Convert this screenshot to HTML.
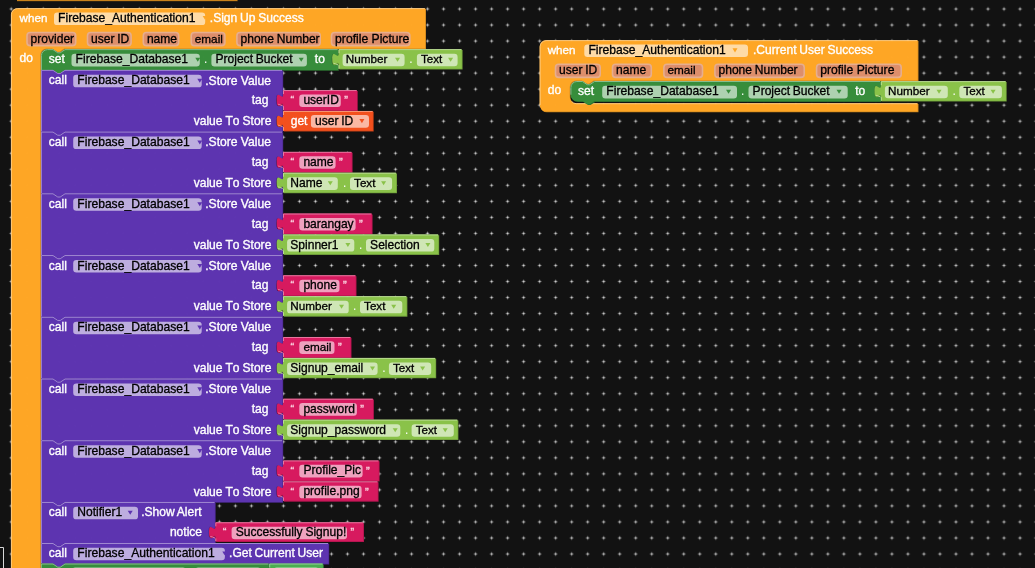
<!DOCTYPE html>
<html><head><meta charset="utf-8"><title>Blocks</title>
<style>
html,body{margin:0;padding:0;background:#121212;}
body{width:1035px;height:568px;overflow:hidden;position:relative;font-family:"Liberation Sans",sans-serif;}
svg{position:absolute;left:0;top:0;display:block;}
text{font-family:"Liberation Sans",sans-serif;word-spacing:-0.6px;white-space:pre;}
</style></head><body>
<svg width="1035" height="568" viewBox="0 0 1035 568">
<defs>
<pattern id="grid" x="3.24" y="1.0" width="16.0125" height="16.03" patternUnits="userSpaceOnUse">
<rect x="5.9" y="7.5" width="4.2" height="1" fill="#cfcfcf" fill-opacity="0.3"/><rect x="7.5" y="5.9" width="1" height="4.2" fill="#cfcfcf" fill-opacity="0.3"/>
<rect x="6.9" y="7.3" width="2.2" height="1.4" fill="#cfcfcf" fill-opacity="0.5"/><rect x="7.3" y="6.9" width="1.4" height="2.2" fill="#cfcfcf" fill-opacity="0.5"/>
<rect x="7.4" y="7.4" width="1.2" height="1.2" fill="#dadada" fill-opacity="0.9"/>
</pattern>
</defs>
<rect width="1035" height="568" fill="#121212"/>
<rect width="1035" height="568" fill="url(#grid)"/>
<path d="M0,547.5 H3.5 V568" fill="none" stroke="#d8d8d8" stroke-width="1"/>
<g id="blocks" style="opacity:0.999"><rect x="17" y="-10" width="220.8" height="11.25" fill="#8c5c15"/>
<rect x="17" y="-10" width="220" height="10.55" fill="#FFA726"/>
<path d="M 11,14.6 A 6.4,6.4 0 0,1 17.4,8.2 H 425.2 V 48.5 H 64.2 l -4.8,3.2 -2.4,0 -4.8,-3.2 h -5.6 a 6.4,6.4 0 0,0 -6.4,6.4 V 742.1 a 6.4,6.4 0 0,0 6.4,6.4 H 425.2 V 758.5 H 17.4 A 6.4,6.4 0 0,1 11,752.1 z" fill="#cc861e" transform="translate(0.8,0.8)"/>
<path d="M 11,14.6 A 6.4,6.4 0 0,1 17.4,8.2 H 425.2 V 48.5 H 64.2 l -4.8,3.2 -2.4,0 -4.8,-3.2 h -5.6 a 6.4,6.4 0 0,0 -6.4,6.4 V 742.1 a 6.4,6.4 0 0,0 6.4,6.4 H 425.2 V 758.5 H 17.4 A 6.4,6.4 0 0,1 11,752.1 z" fill="#FFA726"/>
<path d="M 11.4,752.1 V 14.6 A 6,6 0 0,1 17.4,8.6 H 424.8 M 42.12,746.58 a 6.4,6.4 0 0,0 4.48,2.32 H 424.8" fill="none" stroke="#ffcf88" stroke-width="0.92"/>
<text x="19.6" y="22.1" fill="#fff" stroke="#fff" stroke-width="0.35" font-size="11.63" text-anchor="start">when</text>
<rect x="54" y="12.5" width="151.2" height="12.6" rx="3.2" ry="3.2" fill="#fff" fill-opacity="0.6"/>
<text x="58.1" y="22.1" fill="#000" stroke="#000" stroke-width="0.3" font-size="12.12" text-anchor="start">Firebase_Authentication1</text>
<path d="M 202.7,16.1 h 4.6 l -2.3,3.6 z" fill="#FFA726"/>
<text x="209.8" y="22.1" fill="#fff" stroke="#fff" stroke-width="0.35" font-size="12.05" text-anchor="start">.Sign Up Success</text>
<rect x="27" y="32.5" width="48.7" height="13.15" rx="3.2" ry="3.2" fill="rgb(222,143,108)" stroke="rgb(231,175,143)" stroke-width="1.6"/>
<text x="30.6" y="42.5" fill="#000" stroke="#000" stroke-width="0.3" font-size="12.05" text-anchor="start">provider</text>
<rect x="87.5" y="32.5" width="43.6" height="13.15" rx="3.2" ry="3.2" fill="rgb(222,143,108)" stroke="rgb(231,175,143)" stroke-width="1.6"/>
<text x="91.1" y="42.5" fill="#000" stroke="#000" stroke-width="0.3" font-size="12.05" text-anchor="start">user ID</text>
<rect x="143.3" y="32.5" width="35.4" height="13.15" rx="3.2" ry="3.2" fill="rgb(222,143,108)" stroke="rgb(231,175,143)" stroke-width="1.6"/>
<text x="146.9" y="42.5" fill="#000" stroke="#000" stroke-width="0.3" font-size="12.05" text-anchor="start">name</text>
<rect x="191.2" y="32.5" width="33.7" height="13.15" rx="3.2" ry="3.2" fill="rgb(222,143,108)" stroke="rgb(231,175,143)" stroke-width="1.6"/>
<text x="194.8" y="42.5" fill="#000" stroke="#000" stroke-width="0.3" font-size="11.75" text-anchor="start">email</text>
<rect x="236.9" y="32.5" width="83.3" height="13.15" rx="3.2" ry="3.2" fill="rgb(222,143,108)" stroke="rgb(231,175,143)" stroke-width="1.6"/>
<text x="240.5" y="42.5" fill="#000" stroke="#000" stroke-width="0.3" font-size="12.05" text-anchor="start">phone Number</text>
<rect x="331.5" y="32.5" width="78.3" height="13.15" rx="3.2" ry="3.2" fill="rgb(222,143,108)" stroke="rgb(231,175,143)" stroke-width="1.6"/>
<text x="335.1" y="42.5" fill="#000" stroke="#000" stroke-width="0.3" font-size="12.15" text-anchor="start" style="word-spacing:0px">profile Picture</text>
<text x="19.6" y="62.2" fill="#fff" stroke="#fff" stroke-width="0.35" font-size="12.05" text-anchor="start">do</text>
<path d="M 41,55.6 A 6.4,6.4 0 0,1 47.4,49.2 H 53 l 4.8,3.2 2.4,0 4.8,-3.2 H 338 v 4 c 0,8 -6.4,-6.4 -6.4,6 s 6.4,-2 6.4,6 v 4.75 H 65 l -4.8,3.2 -2.4,0 -4.8,-3.2 H 41 z" fill="#2d7230" transform="translate(0.8,0.8)"/>
<path d="M 41,55.6 A 6.4,6.4 0 0,1 47.4,49.2 H 53 l 4.8,3.2 2.4,0 4.8,-3.2 H 338 v 4 c 0,8 -6.4,-6.4 -6.4,6 s 6.4,-2 6.4,6 v 4.75 H 65 l -4.8,3.2 -2.4,0 -4.8,-3.2 H 41 z" fill="#388E3C"/>
<path d="M 41.4,55.6 A 6,6 0 0,1 47.4,49.6 H 53 l 4.8,3.2 2.4,0 4.8,-3.2 H 337.6 M 41.4,69.95 V 55.6" fill="none" stroke="#92c194" stroke-width="0.92"/>
<text x="48.8" y="63.4" fill="#fff" stroke="#fff" stroke-width="0.35" font-size="12.05" text-anchor="start">set</text>
<rect x="71.5" y="53.8" width="128.3" height="12.6" rx="3.2" ry="3.2" fill="#fff" fill-opacity="0.6"/>
<text x="75.6" y="63.4" fill="#000" stroke="#000" stroke-width="0.3" font-size="12.12" text-anchor="start">Firebase_Database1</text>
<path d="M 195.3,57.75 h 5 l -2.5,4.1 z" fill="#388E3C"/>
<text x="204.1" y="63.4" fill="#fff" stroke="#fff" stroke-width="0" font-size="12.05" text-anchor="start">.</text>
<rect x="211.4" y="53.8" width="95.5" height="12.6" rx="3.2" ry="3.2" fill="#fff" fill-opacity="0.6"/>
<text x="215.5" y="63.4" fill="#000" stroke="#000" stroke-width="0.3" font-size="12.05" text-anchor="start">Project Bucket</text>
<path d="M 298.7,57.75 h 5 l -2.5,4.1 z" fill="#388E3C"/>
<text x="314.8" y="63.4" fill="#fff" stroke="#fff" stroke-width="0.35" font-size="12.05" text-anchor="start">to</text>
<path d="M 338.6,49.2 H 461.8 V 68.8 H 338.6 V 65.2 c 0,-8 -6.4,6.4 -6.4,-6 s 6.4,2 6.4,-6 z" fill="#6f9c3b" transform="translate(0.8,0.8)"/>
<path d="M 338.6,49.2 H 461.8 V 68.8 H 338.6 V 65.2 c 0,-8 -6.4,6.4 -6.4,-6 s 6.4,2 6.4,-6 z" fill="#8BC34A"/>
<path d="M 339,68.8 V 65.2 M 339,53.2 V 49.6 H 461.4 M 333.56,63.28 l 2.08,0.56 l 2.56,1.12" fill="none" stroke="#bfde9b" stroke-width="0.92"/>
<rect x="342.6" y="53.7" width="62" height="12.6" rx="3.2" ry="3.2" fill="#fff" fill-opacity="0.6"/>
<text x="345.8" y="63.3" fill="#000" stroke="#000" stroke-width="0.3" font-size="11.71" text-anchor="start">Number</text>
<path d="M 395,57.65 h 5 l -2.5,4.1 z" fill="#8BC34A"/>
<text x="409.3" y="63.3" fill="#fff" stroke="#fff" stroke-width="0" font-size="12.05" text-anchor="start">.</text>
<rect x="416.9" y="53.7" width="40.7" height="12.6" rx="3.2" ry="3.2" fill="#fff" fill-opacity="0.6"/>
<text x="421" y="63.3" fill="#000" stroke="#000" stroke-width="0.3" font-size="11.63" text-anchor="start">Text</text>
<path d="M 448.1,57.65 h 5 l -2.5,4.1 z" fill="#8BC34A"/>
<path d="M 41,69.95 H 53 l 4.8,3.2 2.4,0 4.8,-3.2 H 282.4 v 20.2 v 4 c 0,8 -6.4,-6.4 -6.4,6 s 6.4,-2 6.4,6 v 4.9 v 4 c 0,8 -6.4,-6.4 -6.4,6 s 6.4,-2 6.4,6 v 4.63 H 65 l -4.8,3.2 -2.4,0 -4.8,-3.2 H 41 z" fill="#4b2a8e" transform="translate(0.8,0.8)"/>
<path d="M 41,69.95 H 53 l 4.8,3.2 2.4,0 4.8,-3.2 H 282.4 v 20.2 v 4 c 0,8 -6.4,-6.4 -6.4,6 s 6.4,-2 6.4,6 v 4.9 v 4 c 0,8 -6.4,-6.4 -6.4,6 s 6.4,-2 6.4,6 v 4.63 H 65 l -4.8,3.2 -2.4,0 -4.8,-3.2 H 41 z" fill="#5E35B1"/>
<path d="M 41.4,70.35 H 53 l 4.8,3.2 2.4,0 4.8,-3.2 H 282 M 41.4,131.68 V 70.35" fill="none" stroke="#a690d4" stroke-width="0.92"/>
<text x="48.8" y="84.45" fill="#fff" stroke="#fff" stroke-width="0.35" font-size="12.05" text-anchor="start">call</text>
<rect x="73.2" y="74.75" width="128.5" height="12.6" rx="3.2" ry="3.2" fill="#fff" fill-opacity="0.6"/>
<text x="77.3" y="84.35" fill="#000" stroke="#000" stroke-width="0.3" font-size="12.12" text-anchor="start">Firebase_Database1</text>
<path d="M 197.3,78.7 h 5 l -2.5,4.1 z" fill="#5E35B1"/>
<text x="205.2" y="84.55" fill="#fff" stroke="#fff" stroke-width="0.35" font-size="12.12" text-anchor="start" style="word-spacing:0px">.Store Value</text>
<text x="251.7" y="104.15" fill="#fff" stroke="#fff" stroke-width="0.35" font-size="12.05" text-anchor="start">tag</text>
<text x="193.7" y="125.25" fill="#fff" stroke="#fff" stroke-width="0.35" font-size="12.05" text-anchor="start" style="font-kerning:none;word-spacing:-0.35px">value To Store</text>
<path d="M 283.1,90.15 H 357 V 110.25 H 283.1 V 106.15 c 0,-8 -6.4,6.4 -6.4,-6 s 6.4,2 6.4,-6 z" fill="#ad164d" transform="translate(0.8,0.8)"/>
<path d="M 283.1,90.15 H 357 V 110.25 H 283.1 V 106.15 c 0,-8 -6.4,6.4 -6.4,-6 s 6.4,2 6.4,-6 z" fill="#D81B60"/>
<path d="M 283.5,110.25 V 106.15 M 283.5,94.15 V 90.55 H 356.6 M 278.06,104.23 l 2.08,0.56 l 2.56,1.12" fill="none" stroke="#ea82a8" stroke-width="0.92"/>
<text x="290.4" y="104.25" fill="#fbd0de" stroke="#fbd0de" stroke-width="0.35" font-size="11" text-anchor="start">“</text>
<rect x="299.3" y="94.45" width="41.5" height="12.6" rx="3.2" ry="3.2" fill="#fff" fill-opacity="0.6"/>
<text x="303.4" y="104.05" fill="#000" stroke="#000" stroke-width="0.3" font-size="12.05" text-anchor="start">userID</text>
<text x="344.2" y="104.25" fill="#fbd0de" stroke="#fbd0de" stroke-width="0.35" font-size="11" text-anchor="start">”</text>
<path d="M 283.1,111.05 H 372.9 V 130.75 H 283.1 V 127.05 c 0,-8 -6.4,6.4 -6.4,-6 s 6.4,2 6.4,-6 z" fill="#c34118" transform="translate(0.8,0.8)"/>
<path d="M 283.1,111.05 H 372.9 V 130.75 H 283.1 V 127.05 c 0,-8 -6.4,6.4 -6.4,-6 s 6.4,2 6.4,-6 z" fill="#F4511E"/>
<path d="M 283.5,130.75 V 127.05 M 283.5,115.05 V 111.45 H 372.5 M 278.06,125.13 l 2.08,0.56 l 2.56,1.12" fill="none" stroke="#f99f83" stroke-width="0.92"/>
<text x="290.7" y="124.7" fill="#fff" stroke="#fff" stroke-width="0.35" font-size="12.05" text-anchor="start">get</text>
<rect x="310.9" y="115.1" width="58.1" height="12.6" rx="3.2" ry="3.2" fill="#fff" fill-opacity="0.6"/>
<text x="315" y="124.7" fill="#000" stroke="#000" stroke-width="0.3" font-size="12.05" text-anchor="start">user ID</text>
<path d="M 359.4,119.05 h 5 l -2.5,4.1 z" fill="#F4511E"/>
<path d="M 41,131.68 H 53 l 4.8,3.2 2.4,0 4.8,-3.2 H 282.4 v 20.2 v 4 c 0,8 -6.4,-6.4 -6.4,6 s 6.4,-2 6.4,6 v 4.9 v 4 c 0,8 -6.4,-6.4 -6.4,6 s 6.4,-2 6.4,6 v 4.63 H 65 l -4.8,3.2 -2.4,0 -4.8,-3.2 H 41 z" fill="#4b2a8e" transform="translate(0.8,0.8)"/>
<path d="M 41,131.68 H 53 l 4.8,3.2 2.4,0 4.8,-3.2 H 282.4 v 20.2 v 4 c 0,8 -6.4,-6.4 -6.4,6 s 6.4,-2 6.4,6 v 4.9 v 4 c 0,8 -6.4,-6.4 -6.4,6 s 6.4,-2 6.4,6 v 4.63 H 65 l -4.8,3.2 -2.4,0 -4.8,-3.2 H 41 z" fill="#5E35B1"/>
<path d="M 41.4,132.08 H 53 l 4.8,3.2 2.4,0 4.8,-3.2 H 282 M 41.4,193.41 V 132.08" fill="none" stroke="#a690d4" stroke-width="0.92"/>
<text x="48.8" y="146.18" fill="#fff" stroke="#fff" stroke-width="0.35" font-size="12.05" text-anchor="start">call</text>
<rect x="73.2" y="136.48" width="128.5" height="12.6" rx="3.2" ry="3.2" fill="#fff" fill-opacity="0.6"/>
<text x="77.3" y="146.08" fill="#000" stroke="#000" stroke-width="0.3" font-size="12.12" text-anchor="start">Firebase_Database1</text>
<path d="M 197.3,140.43 h 5 l -2.5,4.1 z" fill="#5E35B1"/>
<text x="205.2" y="146.28" fill="#fff" stroke="#fff" stroke-width="0.35" font-size="12.12" text-anchor="start" style="word-spacing:0px">.Store Value</text>
<text x="251.7" y="165.88" fill="#fff" stroke="#fff" stroke-width="0.35" font-size="12.05" text-anchor="start">tag</text>
<text x="193.7" y="186.98" fill="#fff" stroke="#fff" stroke-width="0.35" font-size="12.05" text-anchor="start" style="font-kerning:none;word-spacing:-0.35px">value To Store</text>
<path d="M 283.1,151.88 H 351.8 V 171.98 H 283.1 V 167.88 c 0,-8 -6.4,6.4 -6.4,-6 s 6.4,2 6.4,-6 z" fill="#ad164d" transform="translate(0.8,0.8)"/>
<path d="M 283.1,151.88 H 351.8 V 171.98 H 283.1 V 167.88 c 0,-8 -6.4,6.4 -6.4,-6 s 6.4,2 6.4,-6 z" fill="#D81B60"/>
<path d="M 283.5,171.98 V 167.88 M 283.5,155.88 V 152.28 H 351.4 M 278.06,165.96 l 2.08,0.56 l 2.56,1.12" fill="none" stroke="#ea82a8" stroke-width="0.92"/>
<text x="290.4" y="165.98" fill="#fbd0de" stroke="#fbd0de" stroke-width="0.35" font-size="11" text-anchor="start">“</text>
<rect x="299.3" y="156.18" width="36.3" height="12.6" rx="3.2" ry="3.2" fill="#fff" fill-opacity="0.6"/>
<text x="303.4" y="165.78" fill="#000" stroke="#000" stroke-width="0.3" font-size="12.05" text-anchor="start">name</text>
<text x="339" y="165.98" fill="#fbd0de" stroke="#fbd0de" stroke-width="0.35" font-size="11" text-anchor="start">”</text>
<path d="M 283.1,172.78 H 396.2 V 192.38 H 283.1 V 188.78 c 0,-8 -6.4,6.4 -6.4,-6 s 6.4,2 6.4,-6 z" fill="#6f9c3b" transform="translate(0.8,0.8)"/>
<path d="M 283.1,172.78 H 396.2 V 192.38 H 283.1 V 188.78 c 0,-8 -6.4,6.4 -6.4,-6 s 6.4,2 6.4,-6 z" fill="#8BC34A"/>
<path d="M 283.5,192.38 V 188.78 M 283.5,176.78 V 173.18 H 395.8 M 278.06,186.86 l 2.08,0.56 l 2.56,1.12" fill="none" stroke="#bfde9b" stroke-width="0.92"/>
<rect x="287.1" y="177.28" width="50.7" height="12.6" rx="3.2" ry="3.2" fill="#fff" fill-opacity="0.6"/>
<text x="290.3" y="186.88" fill="#000" stroke="#000" stroke-width="0.3" font-size="12.05" text-anchor="start">Name</text>
<path d="M 327.8,181.23 h 5 l -2.5,4.1 z" fill="#8BC34A"/>
<text x="342.9" y="186.88" fill="#fff" stroke="#fff" stroke-width="0" font-size="12.05" text-anchor="start">.</text>
<rect x="350" y="177.28" width="42.1" height="12.6" rx="3.2" ry="3.2" fill="#fff" fill-opacity="0.6"/>
<text x="354.1" y="186.88" fill="#000" stroke="#000" stroke-width="0.3" font-size="11.63" text-anchor="start">Text</text>
<path d="M 381.1,181.23 h 5 l -2.5,4.1 z" fill="#8BC34A"/>
<path d="M 41,193.41 H 53 l 4.8,3.2 2.4,0 4.8,-3.2 H 282.4 v 20.2 v 4 c 0,8 -6.4,-6.4 -6.4,6 s 6.4,-2 6.4,6 v 4.9 v 4 c 0,8 -6.4,-6.4 -6.4,6 s 6.4,-2 6.4,6 v 4.63 H 65 l -4.8,3.2 -2.4,0 -4.8,-3.2 H 41 z" fill="#4b2a8e" transform="translate(0.8,0.8)"/>
<path d="M 41,193.41 H 53 l 4.8,3.2 2.4,0 4.8,-3.2 H 282.4 v 20.2 v 4 c 0,8 -6.4,-6.4 -6.4,6 s 6.4,-2 6.4,6 v 4.9 v 4 c 0,8 -6.4,-6.4 -6.4,6 s 6.4,-2 6.4,6 v 4.63 H 65 l -4.8,3.2 -2.4,0 -4.8,-3.2 H 41 z" fill="#5E35B1"/>
<path d="M 41.4,193.81 H 53 l 4.8,3.2 2.4,0 4.8,-3.2 H 282 M 41.4,255.14 V 193.81" fill="none" stroke="#a690d4" stroke-width="0.92"/>
<text x="48.8" y="207.91" fill="#fff" stroke="#fff" stroke-width="0.35" font-size="12.05" text-anchor="start">call</text>
<rect x="73.2" y="198.21" width="128.5" height="12.6" rx="3.2" ry="3.2" fill="#fff" fill-opacity="0.6"/>
<text x="77.3" y="207.81" fill="#000" stroke="#000" stroke-width="0.3" font-size="12.12" text-anchor="start">Firebase_Database1</text>
<path d="M 197.3,202.16 h 5 l -2.5,4.1 z" fill="#5E35B1"/>
<text x="205.2" y="208.01" fill="#fff" stroke="#fff" stroke-width="0.35" font-size="12.12" text-anchor="start" style="word-spacing:0px">.Store Value</text>
<text x="251.7" y="227.61" fill="#fff" stroke="#fff" stroke-width="0.35" font-size="12.05" text-anchor="start">tag</text>
<text x="193.7" y="248.71" fill="#fff" stroke="#fff" stroke-width="0.35" font-size="12.05" text-anchor="start" style="font-kerning:none;word-spacing:-0.35px">value To Store</text>
<path d="M 283.1,213.61 H 371.8 V 233.71 H 283.1 V 229.61 c 0,-8 -6.4,6.4 -6.4,-6 s 6.4,2 6.4,-6 z" fill="#ad164d" transform="translate(0.8,0.8)"/>
<path d="M 283.1,213.61 H 371.8 V 233.71 H 283.1 V 229.61 c 0,-8 -6.4,6.4 -6.4,-6 s 6.4,2 6.4,-6 z" fill="#D81B60"/>
<path d="M 283.5,233.71 V 229.61 M 283.5,217.61 V 214.01 H 371.4 M 278.06,227.69 l 2.08,0.56 l 2.56,1.12" fill="none" stroke="#ea82a8" stroke-width="0.92"/>
<text x="290.4" y="227.71" fill="#fbd0de" stroke="#fbd0de" stroke-width="0.35" font-size="11" text-anchor="start">“</text>
<rect x="299.3" y="217.91" width="56.3" height="12.6" rx="3.2" ry="3.2" fill="#fff" fill-opacity="0.6"/>
<text x="303.4" y="227.51" fill="#000" stroke="#000" stroke-width="0.3" font-size="12.05" text-anchor="start">barangay</text>
<text x="359" y="227.71" fill="#fbd0de" stroke="#fbd0de" stroke-width="0.35" font-size="11" text-anchor="start">”</text>
<path d="M 283.1,234.51 H 438.4 V 254.11 H 283.1 V 250.51 c 0,-8 -6.4,6.4 -6.4,-6 s 6.4,2 6.4,-6 z" fill="#6f9c3b" transform="translate(0.8,0.8)"/>
<path d="M 283.1,234.51 H 438.4 V 254.11 H 283.1 V 250.51 c 0,-8 -6.4,6.4 -6.4,-6 s 6.4,2 6.4,-6 z" fill="#8BC34A"/>
<path d="M 283.5,254.11 V 250.51 M 283.5,238.51 V 234.91 H 438 M 278.06,248.59 l 2.08,0.56 l 2.56,1.12" fill="none" stroke="#bfde9b" stroke-width="0.92"/>
<rect x="287.1" y="239.01" width="67.2" height="12.6" rx="3.2" ry="3.2" fill="#fff" fill-opacity="0.6"/>
<text x="290.3" y="248.61" fill="#000" stroke="#000" stroke-width="0.3" font-size="12.05" text-anchor="start">Spinner1</text>
<path d="M 345.4,242.96 h 5 l -2.5,4.1 z" fill="#8BC34A"/>
<text x="359" y="248.61" fill="#fff" stroke="#fff" stroke-width="0" font-size="12.05" text-anchor="start">.</text>
<rect x="366" y="239.01" width="68.3" height="12.6" rx="3.2" ry="3.2" fill="#fff" fill-opacity="0.6"/>
<text x="370.1" y="248.61" fill="#000" stroke="#000" stroke-width="0.3" font-size="12.05" text-anchor="start">Selection</text>
<path d="M 425.4,242.96 h 5 l -2.5,4.1 z" fill="#8BC34A"/>
<path d="M 41,255.14 H 53 l 4.8,3.2 2.4,0 4.8,-3.2 H 282.4 v 20.2 v 4 c 0,8 -6.4,-6.4 -6.4,6 s 6.4,-2 6.4,6 v 4.9 v 4 c 0,8 -6.4,-6.4 -6.4,6 s 6.4,-2 6.4,6 v 4.63 H 65 l -4.8,3.2 -2.4,0 -4.8,-3.2 H 41 z" fill="#4b2a8e" transform="translate(0.8,0.8)"/>
<path d="M 41,255.14 H 53 l 4.8,3.2 2.4,0 4.8,-3.2 H 282.4 v 20.2 v 4 c 0,8 -6.4,-6.4 -6.4,6 s 6.4,-2 6.4,6 v 4.9 v 4 c 0,8 -6.4,-6.4 -6.4,6 s 6.4,-2 6.4,6 v 4.63 H 65 l -4.8,3.2 -2.4,0 -4.8,-3.2 H 41 z" fill="#5E35B1"/>
<path d="M 41.4,255.54 H 53 l 4.8,3.2 2.4,0 4.8,-3.2 H 282 M 41.4,316.87 V 255.54" fill="none" stroke="#a690d4" stroke-width="0.92"/>
<text x="48.8" y="269.64" fill="#fff" stroke="#fff" stroke-width="0.35" font-size="12.05" text-anchor="start">call</text>
<rect x="73.2" y="259.94" width="128.5" height="12.6" rx="3.2" ry="3.2" fill="#fff" fill-opacity="0.6"/>
<text x="77.3" y="269.54" fill="#000" stroke="#000" stroke-width="0.3" font-size="12.12" text-anchor="start">Firebase_Database1</text>
<path d="M 197.3,263.89 h 5 l -2.5,4.1 z" fill="#5E35B1"/>
<text x="205.2" y="269.74" fill="#fff" stroke="#fff" stroke-width="0.35" font-size="12.12" text-anchor="start" style="word-spacing:0px">.Store Value</text>
<text x="251.7" y="289.34" fill="#fff" stroke="#fff" stroke-width="0.35" font-size="12.05" text-anchor="start">tag</text>
<text x="193.7" y="310.44" fill="#fff" stroke="#fff" stroke-width="0.35" font-size="12.05" text-anchor="start" style="font-kerning:none;word-spacing:-0.35px">value To Store</text>
<path d="M 283.1,275.34 H 355.7 V 295.44 H 283.1 V 291.34 c 0,-8 -6.4,6.4 -6.4,-6 s 6.4,2 6.4,-6 z" fill="#ad164d" transform="translate(0.8,0.8)"/>
<path d="M 283.1,275.34 H 355.7 V 295.44 H 283.1 V 291.34 c 0,-8 -6.4,6.4 -6.4,-6 s 6.4,2 6.4,-6 z" fill="#D81B60"/>
<path d="M 283.5,295.44 V 291.34 M 283.5,279.34 V 275.74 H 355.3 M 278.06,289.42 l 2.08,0.56 l 2.56,1.12" fill="none" stroke="#ea82a8" stroke-width="0.92"/>
<text x="290.4" y="289.44" fill="#fbd0de" stroke="#fbd0de" stroke-width="0.35" font-size="11" text-anchor="start">“</text>
<rect x="299.3" y="279.64" width="40.2" height="12.6" rx="3.2" ry="3.2" fill="#fff" fill-opacity="0.6"/>
<text x="303.4" y="289.24" fill="#000" stroke="#000" stroke-width="0.3" font-size="12.05" text-anchor="start">phone</text>
<text x="342.9" y="289.44" fill="#fbd0de" stroke="#fbd0de" stroke-width="0.35" font-size="11" text-anchor="start">”</text>
<path d="M 283.1,296.24 H 406.6 V 315.84 H 283.1 V 312.24 c 0,-8 -6.4,6.4 -6.4,-6 s 6.4,2 6.4,-6 z" fill="#6f9c3b" transform="translate(0.8,0.8)"/>
<path d="M 283.1,296.24 H 406.6 V 315.84 H 283.1 V 312.24 c 0,-8 -6.4,6.4 -6.4,-6 s 6.4,2 6.4,-6 z" fill="#8BC34A"/>
<path d="M 283.5,315.84 V 312.24 M 283.5,300.24 V 296.64 H 406.2 M 278.06,310.32 l 2.08,0.56 l 2.56,1.12" fill="none" stroke="#bfde9b" stroke-width="0.92"/>
<rect x="287.1" y="300.74" width="61.6" height="12.6" rx="3.2" ry="3.2" fill="#fff" fill-opacity="0.6"/>
<text x="290.3" y="310.34" fill="#000" stroke="#000" stroke-width="0.3" font-size="11.71" text-anchor="start">Number</text>
<path d="M 339,304.69 h 5 l -2.5,4.1 z" fill="#8BC34A"/>
<text x="353.1" y="310.34" fill="#fff" stroke="#fff" stroke-width="0" font-size="12.05" text-anchor="start">.</text>
<rect x="360" y="300.74" width="42.3" height="12.6" rx="3.2" ry="3.2" fill="#fff" fill-opacity="0.6"/>
<text x="364.1" y="310.34" fill="#000" stroke="#000" stroke-width="0.3" font-size="11.63" text-anchor="start">Text</text>
<path d="M 391.2,304.69 h 5 l -2.5,4.1 z" fill="#8BC34A"/>
<path d="M 41,316.87 H 53 l 4.8,3.2 2.4,0 4.8,-3.2 H 282.4 v 20.2 v 4 c 0,8 -6.4,-6.4 -6.4,6 s 6.4,-2 6.4,6 v 4.9 v 4 c 0,8 -6.4,-6.4 -6.4,6 s 6.4,-2 6.4,6 v 4.63 H 65 l -4.8,3.2 -2.4,0 -4.8,-3.2 H 41 z" fill="#4b2a8e" transform="translate(0.8,0.8)"/>
<path d="M 41,316.87 H 53 l 4.8,3.2 2.4,0 4.8,-3.2 H 282.4 v 20.2 v 4 c 0,8 -6.4,-6.4 -6.4,6 s 6.4,-2 6.4,6 v 4.9 v 4 c 0,8 -6.4,-6.4 -6.4,6 s 6.4,-2 6.4,6 v 4.63 H 65 l -4.8,3.2 -2.4,0 -4.8,-3.2 H 41 z" fill="#5E35B1"/>
<path d="M 41.4,317.27 H 53 l 4.8,3.2 2.4,0 4.8,-3.2 H 282 M 41.4,378.6 V 317.27" fill="none" stroke="#a690d4" stroke-width="0.92"/>
<text x="48.8" y="331.37" fill="#fff" stroke="#fff" stroke-width="0.35" font-size="12.05" text-anchor="start">call</text>
<rect x="73.2" y="321.67" width="128.5" height="12.6" rx="3.2" ry="3.2" fill="#fff" fill-opacity="0.6"/>
<text x="77.3" y="331.27" fill="#000" stroke="#000" stroke-width="0.3" font-size="12.12" text-anchor="start">Firebase_Database1</text>
<path d="M 197.3,325.62 h 5 l -2.5,4.1 z" fill="#5E35B1"/>
<text x="205.2" y="331.47" fill="#fff" stroke="#fff" stroke-width="0.35" font-size="12.12" text-anchor="start" style="word-spacing:0px">.Store Value</text>
<text x="251.7" y="351.07" fill="#fff" stroke="#fff" stroke-width="0.35" font-size="12.05" text-anchor="start">tag</text>
<text x="193.7" y="372.17" fill="#fff" stroke="#fff" stroke-width="0.35" font-size="12.05" text-anchor="start" style="font-kerning:none;word-spacing:-0.35px">value To Store</text>
<path d="M 283.1,337.07 H 350.7 V 357.17 H 283.1 V 353.07 c 0,-8 -6.4,6.4 -6.4,-6 s 6.4,2 6.4,-6 z" fill="#ad164d" transform="translate(0.8,0.8)"/>
<path d="M 283.1,337.07 H 350.7 V 357.17 H 283.1 V 353.07 c 0,-8 -6.4,6.4 -6.4,-6 s 6.4,2 6.4,-6 z" fill="#D81B60"/>
<path d="M 283.5,357.17 V 353.07 M 283.5,341.07 V 337.47 H 350.3 M 278.06,351.15 l 2.08,0.56 l 2.56,1.12" fill="none" stroke="#ea82a8" stroke-width="0.92"/>
<text x="290.4" y="351.17" fill="#fbd0de" stroke="#fbd0de" stroke-width="0.35" font-size="11" text-anchor="start">“</text>
<rect x="299.3" y="341.37" width="35.2" height="12.6" rx="3.2" ry="3.2" fill="#fff" fill-opacity="0.6"/>
<text x="303.4" y="350.97" fill="#000" stroke="#000" stroke-width="0.3" font-size="11.75" text-anchor="start">email</text>
<text x="337.9" y="351.17" fill="#fbd0de" stroke="#fbd0de" stroke-width="0.35" font-size="11" text-anchor="start">”</text>
<path d="M 283.1,357.97 H 435.4 V 377.57 H 283.1 V 373.97 c 0,-8 -6.4,6.4 -6.4,-6 s 6.4,2 6.4,-6 z" fill="#6f9c3b" transform="translate(0.8,0.8)"/>
<path d="M 283.1,357.97 H 435.4 V 377.57 H 283.1 V 373.97 c 0,-8 -6.4,6.4 -6.4,-6 s 6.4,2 6.4,-6 z" fill="#8BC34A"/>
<path d="M 283.5,377.57 V 373.97 M 283.5,361.97 V 358.37 H 435 M 278.06,372.05 l 2.08,0.56 l 2.56,1.12" fill="none" stroke="#bfde9b" stroke-width="0.92"/>
<rect x="287.1" y="362.47" width="90.5" height="12.6" rx="3.2" ry="3.2" fill="#fff" fill-opacity="0.6"/>
<text x="290.3" y="372.07" fill="#000" stroke="#000" stroke-width="0.3" font-size="12.05" text-anchor="start">Signup_email</text>
<path d="M 370,366.42 h 5 l -2.5,4.1 z" fill="#8BC34A"/>
<text x="382.3" y="372.07" fill="#fff" stroke="#fff" stroke-width="0" font-size="12.05" text-anchor="start">.</text>
<rect x="388.9" y="362.47" width="42.3" height="12.6" rx="3.2" ry="3.2" fill="#fff" fill-opacity="0.6"/>
<text x="393" y="372.07" fill="#000" stroke="#000" stroke-width="0.3" font-size="11.63" text-anchor="start">Text</text>
<path d="M 420.1,366.42 h 5 l -2.5,4.1 z" fill="#8BC34A"/>
<path d="M 41,378.6 H 53 l 4.8,3.2 2.4,0 4.8,-3.2 H 282.4 v 20.2 v 4 c 0,8 -6.4,-6.4 -6.4,6 s 6.4,-2 6.4,6 v 4.9 v 4 c 0,8 -6.4,-6.4 -6.4,6 s 6.4,-2 6.4,6 v 4.63 H 65 l -4.8,3.2 -2.4,0 -4.8,-3.2 H 41 z" fill="#4b2a8e" transform="translate(0.8,0.8)"/>
<path d="M 41,378.6 H 53 l 4.8,3.2 2.4,0 4.8,-3.2 H 282.4 v 20.2 v 4 c 0,8 -6.4,-6.4 -6.4,6 s 6.4,-2 6.4,6 v 4.9 v 4 c 0,8 -6.4,-6.4 -6.4,6 s 6.4,-2 6.4,6 v 4.63 H 65 l -4.8,3.2 -2.4,0 -4.8,-3.2 H 41 z" fill="#5E35B1"/>
<path d="M 41.4,379 H 53 l 4.8,3.2 2.4,0 4.8,-3.2 H 282 M 41.4,440.33 V 379" fill="none" stroke="#a690d4" stroke-width="0.92"/>
<text x="48.8" y="393.1" fill="#fff" stroke="#fff" stroke-width="0.35" font-size="12.05" text-anchor="start">call</text>
<rect x="73.2" y="383.4" width="128.5" height="12.6" rx="3.2" ry="3.2" fill="#fff" fill-opacity="0.6"/>
<text x="77.3" y="393" fill="#000" stroke="#000" stroke-width="0.3" font-size="12.12" text-anchor="start">Firebase_Database1</text>
<path d="M 197.3,387.35 h 5 l -2.5,4.1 z" fill="#5E35B1"/>
<text x="205.2" y="393.2" fill="#fff" stroke="#fff" stroke-width="0.35" font-size="12.12" text-anchor="start" style="word-spacing:0px">.Store Value</text>
<text x="251.7" y="412.8" fill="#fff" stroke="#fff" stroke-width="0.35" font-size="12.05" text-anchor="start">tag</text>
<text x="193.7" y="433.9" fill="#fff" stroke="#fff" stroke-width="0.35" font-size="12.05" text-anchor="start" style="font-kerning:none;word-spacing:-0.35px">value To Store</text>
<path d="M 283.1,398.8 H 373.1 V 418.9 H 283.1 V 414.8 c 0,-8 -6.4,6.4 -6.4,-6 s 6.4,2 6.4,-6 z" fill="#ad164d" transform="translate(0.8,0.8)"/>
<path d="M 283.1,398.8 H 373.1 V 418.9 H 283.1 V 414.8 c 0,-8 -6.4,6.4 -6.4,-6 s 6.4,2 6.4,-6 z" fill="#D81B60"/>
<path d="M 283.5,418.9 V 414.8 M 283.5,402.8 V 399.2 H 372.7 M 278.06,412.88 l 2.08,0.56 l 2.56,1.12" fill="none" stroke="#ea82a8" stroke-width="0.92"/>
<text x="290.4" y="412.9" fill="#fbd0de" stroke="#fbd0de" stroke-width="0.35" font-size="11" text-anchor="start">“</text>
<rect x="299.3" y="403.1" width="57.6" height="12.6" rx="3.2" ry="3.2" fill="#fff" fill-opacity="0.6"/>
<text x="303.4" y="412.7" fill="#000" stroke="#000" stroke-width="0.3" font-size="12.05" text-anchor="start">password</text>
<text x="360.3" y="412.9" fill="#fbd0de" stroke="#fbd0de" stroke-width="0.35" font-size="11" text-anchor="start">”</text>
<path d="M 283.1,419.7 H 457.6 V 439.3 H 283.1 V 435.7 c 0,-8 -6.4,6.4 -6.4,-6 s 6.4,2 6.4,-6 z" fill="#6f9c3b" transform="translate(0.8,0.8)"/>
<path d="M 283.1,419.7 H 457.6 V 439.3 H 283.1 V 435.7 c 0,-8 -6.4,6.4 -6.4,-6 s 6.4,2 6.4,-6 z" fill="#8BC34A"/>
<path d="M 283.5,439.3 V 435.7 M 283.5,423.7 V 420.1 H 457.2 M 278.06,433.78 l 2.08,0.56 l 2.56,1.12" fill="none" stroke="#bfde9b" stroke-width="0.92"/>
<rect x="287.1" y="424.2" width="113.2" height="12.6" rx="3.2" ry="3.2" fill="#fff" fill-opacity="0.6"/>
<text x="290.3" y="433.8" fill="#000" stroke="#000" stroke-width="0.3" font-size="12.05" text-anchor="start">Signup_password</text>
<path d="M 392.7,428.15 h 5 l -2.5,4.1 z" fill="#8BC34A"/>
<text x="404.9" y="433.8" fill="#fff" stroke="#fff" stroke-width="0" font-size="12.05" text-anchor="start">.</text>
<rect x="411.6" y="424.2" width="42.2" height="12.6" rx="3.2" ry="3.2" fill="#fff" fill-opacity="0.6"/>
<text x="415.7" y="433.8" fill="#000" stroke="#000" stroke-width="0.3" font-size="11.63" text-anchor="start">Text</text>
<path d="M 442.7,428.15 h 5 l -2.5,4.1 z" fill="#8BC34A"/>
<path d="M 41,440.33 H 53 l 4.8,3.2 2.4,0 4.8,-3.2 H 282.4 v 20.2 v 4 c 0,8 -6.4,-6.4 -6.4,6 s 6.4,-2 6.4,6 v 4.9 v 4 c 0,8 -6.4,-6.4 -6.4,6 s 6.4,-2 6.4,6 v 4.63 H 65 l -4.8,3.2 -2.4,0 -4.8,-3.2 H 41 z" fill="#4b2a8e" transform="translate(0.8,0.8)"/>
<path d="M 41,440.33 H 53 l 4.8,3.2 2.4,0 4.8,-3.2 H 282.4 v 20.2 v 4 c 0,8 -6.4,-6.4 -6.4,6 s 6.4,-2 6.4,6 v 4.9 v 4 c 0,8 -6.4,-6.4 -6.4,6 s 6.4,-2 6.4,6 v 4.63 H 65 l -4.8,3.2 -2.4,0 -4.8,-3.2 H 41 z" fill="#5E35B1"/>
<path d="M 41.4,440.73 H 53 l 4.8,3.2 2.4,0 4.8,-3.2 H 282 M 41.4,502.06 V 440.73" fill="none" stroke="#a690d4" stroke-width="0.92"/>
<text x="48.8" y="454.83" fill="#fff" stroke="#fff" stroke-width="0.35" font-size="12.05" text-anchor="start">call</text>
<rect x="73.2" y="445.13" width="128.5" height="12.6" rx="3.2" ry="3.2" fill="#fff" fill-opacity="0.6"/>
<text x="77.3" y="454.73" fill="#000" stroke="#000" stroke-width="0.3" font-size="12.12" text-anchor="start">Firebase_Database1</text>
<path d="M 197.3,449.08 h 5 l -2.5,4.1 z" fill="#5E35B1"/>
<text x="205.2" y="454.93" fill="#fff" stroke="#fff" stroke-width="0.35" font-size="12.12" text-anchor="start" style="word-spacing:0px">.Store Value</text>
<text x="251.7" y="474.53" fill="#fff" stroke="#fff" stroke-width="0.35" font-size="12.05" text-anchor="start">tag</text>
<text x="193.7" y="495.63" fill="#fff" stroke="#fff" stroke-width="0.35" font-size="12.05" text-anchor="start" style="font-kerning:none;word-spacing:-0.35px">value To Store</text>
<path d="M 283.1,460.53 H 378.8 V 480.63 H 283.1 V 476.53 c 0,-8 -6.4,6.4 -6.4,-6 s 6.4,2 6.4,-6 z" fill="#ad164d" transform="translate(0.8,0.8)"/>
<path d="M 283.1,460.53 H 378.8 V 480.63 H 283.1 V 476.53 c 0,-8 -6.4,6.4 -6.4,-6 s 6.4,2 6.4,-6 z" fill="#D81B60"/>
<path d="M 283.5,480.63 V 476.53 M 283.5,464.53 V 460.93 H 378.4 M 278.06,474.61 l 2.08,0.56 l 2.56,1.12" fill="none" stroke="#ea82a8" stroke-width="0.92"/>
<text x="290.4" y="474.63" fill="#fbd0de" stroke="#fbd0de" stroke-width="0.35" font-size="11" text-anchor="start">“</text>
<rect x="299.3" y="464.83" width="63.3" height="12.6" rx="3.2" ry="3.2" fill="#fff" fill-opacity="0.6"/>
<text x="303.4" y="474.43" fill="#000" stroke="#000" stroke-width="0.3" font-size="12.05" text-anchor="start">Profile_Pic</text>
<text x="366" y="474.63" fill="#fbd0de" stroke="#fbd0de" stroke-width="0.35" font-size="11" text-anchor="start">”</text>
<path d="M 283.1,481.43 H 377.8 V 500.83 H 283.1 V 497.43 c 0,-8 -6.4,6.4 -6.4,-6 s 6.4,2 6.4,-6 z" fill="#ad164d" transform="translate(0.8,0.8)"/>
<path d="M 283.1,481.43 H 377.8 V 500.83 H 283.1 V 497.43 c 0,-8 -6.4,6.4 -6.4,-6 s 6.4,2 6.4,-6 z" fill="#D81B60"/>
<path d="M 283.5,500.83 V 497.43 M 283.5,485.43 V 481.83 H 377.4 M 278.06,495.51 l 2.08,0.56 l 2.56,1.12" fill="none" stroke="#ea82a8" stroke-width="0.92"/>
<text x="290.4" y="495.53" fill="#fbd0de" stroke="#fbd0de" stroke-width="0.35" font-size="11" text-anchor="start">“</text>
<rect x="299.3" y="485.73" width="62.3" height="12.6" rx="3.2" ry="3.2" fill="#fff" fill-opacity="0.6"/>
<text x="303.4" y="495.33" fill="#000" stroke="#000" stroke-width="0.3" font-size="12.05" text-anchor="start">profile.png</text>
<text x="365" y="495.53" fill="#fbd0de" stroke="#fbd0de" stroke-width="0.35" font-size="11" text-anchor="start">”</text>
<path d="M 41,502.06 H 53 l 4.8,3.2 2.4,0 4.8,-3.2 H 214.9 v 20.1 v 4 c 0,8 -6.4,-6.4 -6.4,6 s 6.4,-2 6.4,6 v 4.94 H 65 l -4.8,3.2 -2.4,0 -4.8,-3.2 H 41 z" fill="#4b2a8e" transform="translate(0.8,0.8)"/>
<path d="M 41,502.06 H 53 l 4.8,3.2 2.4,0 4.8,-3.2 H 214.9 v 20.1 v 4 c 0,8 -6.4,-6.4 -6.4,6 s 6.4,-2 6.4,6 v 4.94 H 65 l -4.8,3.2 -2.4,0 -4.8,-3.2 H 41 z" fill="#5E35B1"/>
<path d="M 41.4,502.46 H 53 l 4.8,3.2 2.4,0 4.8,-3.2 H 214.5 M 41.4,543.1 V 502.46" fill="none" stroke="#a690d4" stroke-width="0.92"/>
<text x="48.8" y="516.46" fill="#fff" stroke="#fff" stroke-width="0.35" font-size="12.05" text-anchor="start">call</text>
<rect x="73.2" y="506.76" width="64.8" height="12.6" rx="3.2" ry="3.2" fill="#fff" fill-opacity="0.6"/>
<text x="77.3" y="516.36" fill="#000" stroke="#000" stroke-width="0.3" font-size="12.05" text-anchor="start">Notifier1</text>
<path d="M 127.7,510.71 h 5 l -2.5,4.1 z" fill="#5E35B1"/>
<text x="141.2" y="516.46" fill="#fff" stroke="#fff" stroke-width="0.35" font-size="12.05" text-anchor="start">.Show Alert</text>
<text x="169.9" y="536.16" fill="#fff" stroke="#fff" stroke-width="0.35" font-size="12.05" text-anchor="start">notice</text>
<path d="M 215.4,522.36 H 363.2 V 541.26 H 215.4 V 538.36 c 0,-8 -6.4,6.4 -6.4,-6 s 6.4,2 6.4,-6 z" fill="#ad164d" transform="translate(0.8,0.8)"/>
<path d="M 215.4,522.36 H 363.2 V 541.26 H 215.4 V 538.36 c 0,-8 -6.4,6.4 -6.4,-6 s 6.4,2 6.4,-6 z" fill="#D81B60"/>
<path d="M 215.8,541.26 V 538.36 M 215.8,526.36 V 522.76 H 362.8 M 210.36,536.44 l 2.08,0.56 l 2.56,1.12" fill="none" stroke="#ea82a8" stroke-width="0.92"/>
<text x="222.7" y="536.46" fill="#fbd0de" stroke="#fbd0de" stroke-width="0.35" font-size="11" text-anchor="start">“</text>
<rect x="231.6" y="526.66" width="115.4" height="12.6" rx="3.2" ry="3.2" fill="#fff" fill-opacity="0.6"/>
<text x="235.7" y="536.26" fill="#000" stroke="#000" stroke-width="0.3" font-size="12.05" text-anchor="start">Successfully Signup!</text>
<text x="350.4" y="536.46" fill="#fbd0de" stroke="#fbd0de" stroke-width="0.35" font-size="11" text-anchor="start">”</text>
<path d="M 41,543.1 H 53 l 4.8,3.2 2.4,0 4.8,-3.2 H 328.4 v 20.55 H 65 l -4.8,3.2 -2.4,0 -4.8,-3.2 H 41 z" fill="#4b2a8e" transform="translate(0.8,0.8)"/>
<path d="M 41,543.1 H 53 l 4.8,3.2 2.4,0 4.8,-3.2 H 328.4 v 20.55 H 65 l -4.8,3.2 -2.4,0 -4.8,-3.2 H 41 z" fill="#5E35B1"/>
<path d="M 41.4,543.5 H 53 l 4.8,3.2 2.4,0 4.8,-3.2 H 328 M 41.4,563.65 V 543.5" fill="none" stroke="#a690d4" stroke-width="0.92"/>
<text x="48.8" y="557.4" fill="#fff" stroke="#fff" stroke-width="0.35" font-size="12.05" text-anchor="start">call</text>
<rect x="73.2" y="547.7" width="151.7" height="12.6" rx="3.2" ry="3.2" fill="#fff" fill-opacity="0.6"/>
<text x="77.3" y="557.3" fill="#000" stroke="#000" stroke-width="0.3" font-size="12.12" text-anchor="start">Firebase_Authentication1</text>
<path d="M 222.3,551.4 h 4.6 l -2.3,3.8 z" fill="#5E35B1"/>
<text x="229.1" y="557.4" fill="#fff" stroke="#fff" stroke-width="0.35" font-size="12.05" text-anchor="start">.Get Current User</text>
<path d="M 41,563.6 H 53 l 4.8,3.2 2.4,0 4.8,-3.2 H 268.8 v 4 c 0,8 -6.4,-6.4 -6.4,6 s 6.4,-2 6.4,6 v 4.75 H 65 l -4.8,3.2 -2.4,0 -4.8,-3.2 H 41 z" fill="#2d7230" transform="translate(0.8,0.8)"/>
<path d="M 41,563.6 H 53 l 4.8,3.2 2.4,0 4.8,-3.2 H 268.8 v 4 c 0,8 -6.4,-6.4 -6.4,6 s 6.4,-2 6.4,6 v 4.75 H 65 l -4.8,3.2 -2.4,0 -4.8,-3.2 H 41 z" fill="#388E3C"/>
<path d="M 41.4,564 H 53 l 4.8,3.2 2.4,0 4.8,-3.2 H 268.4 M 41.4,584.35 V 564" fill="none" stroke="#92c194" stroke-width="0.92"/>
<path d="M 269.3,563.6 H 322.9 V 583.6 H 269.3 V 579.6 c 0,-8 -6.4,6.4 -6.4,-6 s 6.4,2 6.4,-6 z" fill="#3d8c40" transform="translate(0.8,0.8)"/>
<path d="M 269.3,563.6 H 322.9 V 583.6 H 269.3 V 579.6 c 0,-8 -6.4,6.4 -6.4,-6 s 6.4,2 6.4,-6 z" fill="#4CAF50"/>
<path d="M 269.7,583.6 V 579.6 M 269.7,567.6 V 564 H 322.5 M 264.26,577.68 l 2.08,0.56 l 2.56,1.12" fill="none" stroke="#9dd39f" stroke-width="0.92"/>
<rect x="72" y="567.4" width="114" height="12.6" rx="3.2" fill="#fff" fill-opacity="0.6"/>
<rect x="195" y="567.4" width="66" height="12.6" rx="3.2" fill="#fff" fill-opacity="0.6"/>
<rect x="273.5" y="567.4" width="45.5" height="12.6" rx="3.2" fill="#fff" fill-opacity="0.6"/>
<path d="M 539.7,46.6 A 6.4,6.4 0 0,1 546.1,40.2 H 917.7 V 80.5 H 593.7 l -4.8,3.2 -2.4,0 -4.8,-3.2 h -5.6 a 6.4,6.4 0 0,0 -6.4,6.4 V 96.9 a 6.4,6.4 0 0,0 6.4,6.4 H 917.7 V 111.5 H 546.1 A 6.4,6.4 0 0,1 539.7,105.1 z" fill="#cc861e" transform="translate(0.8,0.8)"/>
<path d="M 539.7,46.6 A 6.4,6.4 0 0,1 546.1,40.2 H 917.7 V 80.5 H 593.7 l -4.8,3.2 -2.4,0 -4.8,-3.2 h -5.6 a 6.4,6.4 0 0,0 -6.4,6.4 V 96.9 a 6.4,6.4 0 0,0 6.4,6.4 H 917.7 V 111.5 H 546.1 A 6.4,6.4 0 0,1 539.7,105.1 z" fill="#FFA726"/>
<path d="M 540.1,105.1 V 46.6 A 6,6 0 0,1 546.1,40.6 H 917.3 M 571.62,101.38 a 6.4,6.4 0 0,0 4.48,2.32 H 917.3" fill="none" stroke="#ffcf88" stroke-width="0.92"/>
<text x="547.7" y="54" fill="#fff" stroke="#fff" stroke-width="0.35" font-size="11.63" text-anchor="start">when</text>
<rect x="584.3" y="44.4" width="163.7" height="12.6" rx="3.2" ry="3.2" fill="#fff" fill-opacity="0.6"/>
<text x="588.4" y="54" fill="#000" stroke="#000" stroke-width="0.3" font-size="12.12" text-anchor="start">Firebase_Authentication1</text>
<path d="M 732.5,48.35 h 5 l -2.5,4.1 z" fill="#FFA726"/>
<text x="753" y="54" fill="#fff" stroke="#fff" stroke-width="0.35" font-size="12.05" text-anchor="start">.Current User Success</text>
<rect x="555.5" y="64.2" width="44.7" height="13.15" rx="3.2" ry="3.2" fill="rgb(222,143,108)" stroke="rgb(231,175,143)" stroke-width="1.6"/>
<text x="559.1" y="74.2" fill="#000" stroke="#000" stroke-width="0.3" font-size="12.05" text-anchor="start">user ID</text>
<rect x="612.5" y="64.2" width="38.8" height="13.15" rx="3.2" ry="3.2" fill="rgb(222,143,108)" stroke="rgb(231,175,143)" stroke-width="1.6"/>
<text x="616.1" y="74.2" fill="#000" stroke="#000" stroke-width="0.3" font-size="12.05" text-anchor="start">name</text>
<rect x="663.9" y="64.2" width="38.6" height="13.15" rx="3.2" ry="3.2" fill="rgb(222,143,108)" stroke="rgb(231,175,143)" stroke-width="1.6"/>
<text x="667.5" y="74.2" fill="#000" stroke="#000" stroke-width="0.3" font-size="11.75" text-anchor="start">email</text>
<rect x="714.9" y="64.2" width="89.3" height="13.15" rx="3.2" ry="3.2" fill="rgb(222,143,108)" stroke="rgb(231,175,143)" stroke-width="1.6"/>
<text x="718.5" y="74.2" fill="#000" stroke="#000" stroke-width="0.3" font-size="12.05" text-anchor="start">phone Number</text>
<rect x="816.6" y="64.2" width="84.6" height="13.15" rx="3.2" ry="3.2" fill="rgb(222,143,108)" stroke="rgb(231,175,143)" stroke-width="1.6"/>
<text x="820.2" y="74.2" fill="#000" stroke="#000" stroke-width="0.3" font-size="12.15" text-anchor="start" style="word-spacing:0px">profile Picture</text>
<text x="547.7" y="94.3" fill="#fff" stroke="#fff" stroke-width="0.35" font-size="12.05" text-anchor="start">do</text>
<path d="M 570.5,87.5 A 6.4,6.4 0 0,1 576.9,81.1 H 582.5 l 4.8,3.2 2.4,0 4.8,-3.2 H 880.6 v 4 c 0,8 -6.4,-6.4 -6.4,6 s 6.4,-2 6.4,6 v 4 H 594.5 l -4.8,3.2 -2.4,0 -4.8,-3.2 H 576.9 A 6.4,6.4 0 0,1 570.5,94.7 z" fill="#2d7230" transform="translate(0.8,0.8)"/>
<path d="M 570.5,87.5 A 6.4,6.4 0 0,1 576.9,81.1 H 582.5 l 4.8,3.2 2.4,0 4.8,-3.2 H 880.6 v 4 c 0,8 -6.4,-6.4 -6.4,6 s 6.4,-2 6.4,6 v 4 H 594.5 l -4.8,3.2 -2.4,0 -4.8,-3.2 H 576.9 A 6.4,6.4 0 0,1 570.5,94.7 z" fill="#388E3C"/>
<path d="M 570.9,87.5 A 6,6 0 0,1 576.9,81.5 H 582.5 l 4.8,3.2 2.4,0 4.8,-3.2 H 880.2 M 570.9,94.7 V 87.5" fill="none" stroke="#92c194" stroke-width="0.92"/>
<text x="578.1" y="95.4" fill="#fff" stroke="#fff" stroke-width="0.35" font-size="12.05" text-anchor="start">set</text>
<rect x="602.2" y="85.8" width="134.8" height="12.6" rx="3.2" ry="3.2" fill="#fff" fill-opacity="0.6"/>
<text x="606.3" y="95.4" fill="#000" stroke="#000" stroke-width="0.3" font-size="12.12" text-anchor="start">Firebase_Database1</text>
<path d="M 726,89.75 h 5 l -2.5,4.1 z" fill="#388E3C"/>
<text x="741.1" y="95.4" fill="#fff" stroke="#fff" stroke-width="0" font-size="12.05" text-anchor="start">.</text>
<rect x="748.5" y="85.8" width="99.2" height="12.6" rx="3.2" ry="3.2" fill="#fff" fill-opacity="0.6"/>
<text x="752.6" y="95.4" fill="#000" stroke="#000" stroke-width="0.3" font-size="12.05" text-anchor="start">Project Bucket</text>
<path d="M 836.5,89.75 h 5 l -2.5,4.1 z" fill="#388E3C"/>
<text x="855.2" y="95.4" fill="#fff" stroke="#fff" stroke-width="0.35" font-size="12.05" text-anchor="start">to</text>
<path d="M 880.9,81.2 H 1005.9 V 100.8 H 880.9 V 97.2 c 0,-8 -6.4,6.4 -6.4,-6 s 6.4,2 6.4,-6 z" fill="#6f9c3b" transform="translate(0.8,0.8)"/>
<path d="M 880.9,81.2 H 1005.9 V 100.8 H 880.9 V 97.2 c 0,-8 -6.4,6.4 -6.4,-6 s 6.4,2 6.4,-6 z" fill="#8BC34A"/>
<path d="M 881.3,100.8 V 97.2 M 881.3,85.2 V 81.6 H 1005.5 M 875.86,95.28 l 2.08,0.56 l 2.56,1.12" fill="none" stroke="#bfde9b" stroke-width="0.92"/>
<rect x="884.9" y="85.7" width="62.9" height="12.6" rx="3.2" ry="3.2" fill="#fff" fill-opacity="0.6"/>
<text x="888.1" y="95.3" fill="#000" stroke="#000" stroke-width="0.3" font-size="11.71" text-anchor="start">Number</text>
<path d="M 936.5,89.65 h 5 l -2.5,4.1 z" fill="#8BC34A"/>
<text x="952.5" y="95.3" fill="#fff" stroke="#fff" stroke-width="0" font-size="12.05" text-anchor="start">.</text>
<rect x="959.3" y="85.7" width="42.6" height="12.6" rx="3.2" ry="3.2" fill="#fff" fill-opacity="0.6"/>
<text x="963.4" y="95.3" fill="#000" stroke="#000" stroke-width="0.3" font-size="11.63" text-anchor="start">Text</text>
<path d="M 990.6,89.65 h 5 l -2.5,4.1 z" fill="#8BC34A"/></g>
</svg>
</body></html>
